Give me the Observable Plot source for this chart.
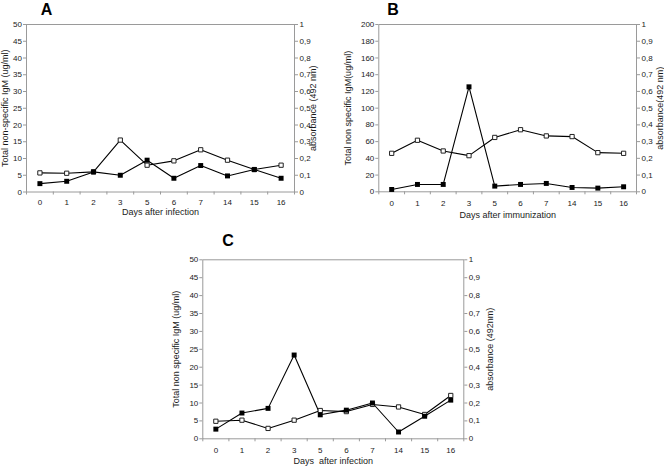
<!DOCTYPE html>
<html><head><meta charset="utf-8">
<script src="https://cdn.jsdelivr.net/npm/d3@7"></script>
<script src="https://cdn.jsdelivr.net/npm/@observablehq/plot@0.6"></script>
<style>
body{margin:0;background:#fff;}
#root{position:relative;width:664px;height:467px;overflow:hidden;background:#fff;}
.panel{position:absolute;}
.panel svg{overflow:visible;}
.panel svg text{white-space:pre;}
</style></head><body><div id="root"></div>
<script>
// ---- data ----
const days = ["0","1","2","3","5","6","7","14","15","16"];
// filled squares: total non-specific IgM (ug/ml), left axis
const igmA = [2.5,3.2,6.0,5.0,9.5,4.1,7.9,4.8,6.7,4.1];
const igmB = [2.8,8.8,8.8,125.5,6.8,8.8,10.0,5.2,4.4,6.0];
const igmC = [2.7,7.2,8.5,23.4,6.7,8.0,10.0,1.9,6.3,10.8];
// open squares: absorbance (492 nm), right axis
const absA = [0.114,0.112,0.120,0.310,0.160,0.186,0.252,0.190,0.134,0.160];
const absB = [0.230,0.308,0.244,0.216,0.325,0.371,0.334,0.330,0.234,0.230];
const absC = [0.098,0.104,0.058,0.104,0.158,0.152,0.192,0.178,0.136,0.242];
// tick values
const ticksA = [0,5,10,15,20,25,30,35,40,45,50];
const ticksB = [0,20,40,60,80,100,120,140,160,180,200];
const ticksC = [0,5,10,15,20,25,30,35,40,45,50];
const absTicks = [0,0.1,0.2,0.3,0.4,0.5,0.6,0.7,0.8,0.9,1];

const FONT = '"Liberation Sans", Arial, Helvetica, sans-serif';
const GRID = "#9a9a9a";
const INK = "#1a1a1a";
const commaFmt = v => String(+v.toFixed(2)).replace(".", ",");

function panel(cfg) {
  const {letter, igm, abs, leftTicks, yTitle, rTitle, xTitle,
         left, top, width, height, mL, mR, mT, mB,
         letterX, letterY, yTitleX, rTitleX, xTickOff, xTitleOff} = cfg;
  const leftMax = leftTicks[leftTicks.length - 1];
  const idx = d3.range(days.length);
  const filled = idx.map(i => ({i, v: igm[i]}));
  const open = idx.map(i => ({i, v: abs[i] * leftMax}));
  const rightTicks = absTicks.map(t => t * leftMax);
  const bounds = d3.range(days.length + 1).map(k => k - 0.5);
  const fr = width - mR;

  const svg = Plot.plot({
    width, height,
    marginLeft: mL, marginRight: mR, marginTop: mT, marginBottom: mB,
    style: {fontFamily: FONT, fontSize: "8px", color: INK, background: "transparent", overflow: "visible"},
    x: {type: "linear", domain: [-0.5, days.length - 0.5]},
    y: {type: "linear", domain: [0, leftMax]},
    marks: [
      Plot.frame({stroke: GRID, strokeWidth: 1}),
      Plot.axisX(bounds, {tickSize: 3, tickFormat: () => "", stroke: GRID, label: null}),
      Plot.axisX(idx, {tickSize: 0, tickPadding: xTickOff, tickFormat: i => days[i], fill: INK, fontSize: 8, label: null}),
      Plot.axisY(leftTicks, {anchor: "left", tickSize: 3, tickPadding: 1.5, stroke: GRID, fill: INK, fontSize: 8, label: null}),
      Plot.axisY(rightTicks, {anchor: "right", tickSize: 3, tickPadding: 2, stroke: GRID, fill: INK, fontSize: 8, label: null,
        tickFormat: d => commaFmt(d / leftMax)}),
      Plot.line(open, {x: "i", y: "v", stroke: "#000", strokeWidth: 1.1}),
      Plot.line(filled, {x: "i", y: "v", stroke: "#000", strokeWidth: 1.1}),
      Plot.dot(open, {x: "i", y: "v", symbol: "square", r: 2.4, fill: "#fff", stroke: "#222", strokeWidth: 1}),
      Plot.dot(filled, {x: "i", y: "v", symbol: "square", r: 2.8, fill: "#000", stroke: "none"}),
      Plot.text([letter], {frameAnchor: "top-left", dx: letterX - mL, dy: letterY - mT, lineAnchor: "top",
        textAnchor: "middle", fontSize: 16, fontWeight: "bold", fill: "#000", text: d => d}),
      Plot.text([yTitle], {frameAnchor: "left", dx: yTitleX - mL, rotate: -90, lineAnchor: "middle",
        textAnchor: "middle", fontSize: 9, fill: INK, text: d => d}),
      Plot.text([rTitle], {frameAnchor: "right", dx: rTitleX - fr, rotate: -90, lineAnchor: "middle",
        textAnchor: "middle", fontSize: 9, fill: INK, text: d => d}),
      Plot.text([xTitle], {frameAnchor: "bottom", dy: xTitleOff, lineAnchor: "middle",
        textAnchor: "middle", fontSize: 9, fill: INK, text: d => d})
    ]
  });
  const div = document.createElement("div");
  div.className = "panel";
  div.style.left = left + "px";
  div.style.top = top + "px";
  div.appendChild(svg);
  document.getElementById("root").appendChild(div);
}

panel({letter: "A", igm: igmA, abs: absA, leftTicks: ticksA,
  yTitle: "Total non-specific IgM (ug/ml)", rTitle: "absorbance (492 nm)", xTitle: "Days after infection",
  left: 0, top: 0, width: 330, height: 225, mL: 26, mR: 36, mT: 24, mB: 33.5,
  letterX: 46, letterY: 3.5, yTitleX: 5, rTitleX: 313, xTickOff: 7.5, xTitleOff: 20.5});

panel({letter: "B", igm: igmB, abs: absB, leftTicks: ticksB,
  yTitle: "Total non specific IgM(ug/ml)", rTitle: "absorbance(492 nm)", xTitle: "Days after immunization",
  left: 330, top: 0, width: 334, height: 225, mL: 48.3, mR: 28, mT: 24, mB: 33.7,
  letterX: 62.5, letterY: 3.5, yTitleX: 18, rTitleX: 330, xTickOff: 8.5, xTitleOff: 23});

panel({letter: "C", igm: igmC, abs: absC, leftTicks: ticksC,
  yTitle: "Total non specific IgM (ug/ml)", rTitle: "absorbance (492nm)", xTitle: "Days  after infection",
  left: 160, top: 230, width: 360, height: 237, mL: 42.3, mR: 56.7, mT: 29.3, mB: 28.7,
  letterX: 67.5, letterY: 4, yTitleX: 16, rTitleX: 330, xTickOff: 8.5, xTitleOff: 22.7});
</script>
</body></html>
